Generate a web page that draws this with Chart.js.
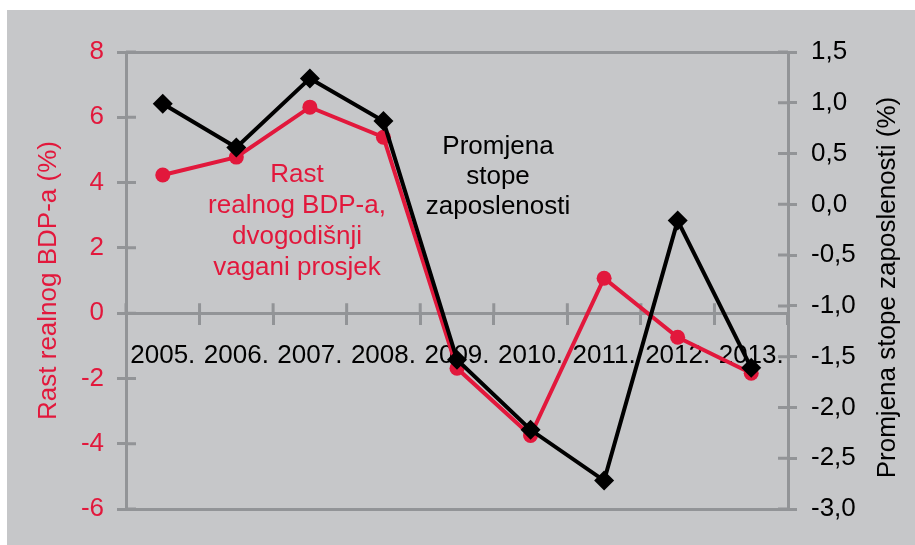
<!DOCTYPE html>
<html>
<head>
<meta charset="utf-8">
<script src="https://cdn.jsdelivr.net/npm/chart.js@4.4.1/dist/chart.umd.min.js"></script>
<style>
  body { margin: 0; background: #fff; }
  #wrap { position: absolute; left: 7px; top: 10px; width: 908px; height: 535px; background: #c6c7c9; }
</style>
</head>
<body>
<div id="wrap"><canvas id="zaposlenost"></canvas></div>
<script>
// podaci
const godine = ['2005.', '2006.', '2007.', '2008.', '2009.', '2010.', '2011.', '2012.', '2013.'];
const rastBDP = [4.23, 4.78, 6.31, 5.39, -1.69, -3.75, 1.07, -0.74, -1.84];
const promjenaZaposlenosti = [0.99, 0.56, 1.24, 0.82, -1.53, -2.22, -2.72, -0.16, -1.61];
const lijevaOs = [-6, 8, 2];     // min, max, korak
const desnaOs = [-3, 1.5, 0.5];

const crvena = '#e2183c';
const siva = '#929497';
const font = 'Liberation Sans, Arial, sans-serif';

// kratke crtice prema unutra + tekstovi
const dodaci = {
  id: 'dodaci',
  beforeDatasetsDraw(chart) {
    const c = chart.ctx, a = chart.chartArea;
    const sx = chart.scales.x, sy = chart.scales.y, sy1 = chart.scales.y1;
    c.save();
    c.strokeStyle = siva;
    c.lineWidth = 3;
    c.beginPath();
    sy.ticks.forEach(t => {
      const p = sy.getPixelForValue(t.value);
      c.moveTo(a.left, p); c.lineTo(a.left + 10, p);
    });
    sy1.ticks.forEach(t => {
      const p = sy1.getPixelForValue(t.value);
      c.moveTo(a.right - 10, p); c.lineTo(a.right, p);
    });
    const y0 = sy.getPixelForValue(0);
    const pola = (sx.getPixelForTick(1) - sx.getPixelForTick(0)) / 2;
    sx.ticks.forEach((t, i) => {
      const p = sx.getPixelForTick(i) - pola;
      c.moveTo(p, y0 - 10); c.lineTo(p, y0);
    });
    c.stroke();
    c.restore();
  },
  afterDraw(chart) {
    const c = chart.ctx, a = chart.chartArea;
    c.save();
    c.font = '26px ' + font;
    c.textAlign = 'center';
    c.textBaseline = 'middle';
    c.fillStyle = crvena;
    ['Rast', 'realnog BDP-a,', 'dvogodišnji', 'vagani prosjek'].forEach((s, i) => {
      c.fillText(s, 290, 165 + i * 31);
    });
    c.fillStyle = '#000';
    ['Promjena', 'stope', 'zaposlenosti'].forEach((s, i) => {
      c.fillText(s, 491, 137 + i * 30);
    });
    // naslov desne osi
    c.translate(881, (a.top + a.bottom) / 2 + 7);
    c.rotate(-Math.PI / 2);
    c.fillText('Promjena stope zaposlenosti (%)', 0, 0);
    c.restore();
  }
};

new Chart(document.getElementById('zaposlenost'), {
  type: 'line',
  data: {
    labels: godine,
    datasets: [{
      label: 'Promjena stope zaposlenosti',
      data: promjenaZaposlenosti,
      yAxisID: 'y1',
      borderColor: '#000',
      backgroundColor: '#000',
      borderWidth: 4,
      pointStyle: 'rectRot',
      pointRadius: 10,
      pointBorderWidth: 0,
      order: 0
    }, {
      label: 'Rast realnog BDP-a',
      data: rastBDP,
      yAxisID: 'y',
      borderColor: crvena,
      backgroundColor: crvena,
      borderWidth: 4,
      pointStyle: 'circle',
      pointRadius: 7.5,
      pointBorderWidth: 0,
      order: 1
    }]
  },
  options: {
    responsive: true,
    maintainAspectRatio: false,
    animation: false,
    layout: { padding: { top: 42, bottom: 36, left: 0, right: 0 } },
    plugins: { legend: { display: false }, tooltip: { enabled: false } },
    scales: {
      x: {
        position: { y: 0 },
        offset: true,
        grid: { offset: true, drawOnChartArea: false, color: siva, lineWidth: 3, tickLength: 10 },
        border: { color: siva, width: 3 },
        ticks: { color: '#000', font: { family: font, size: 26 }, autoSkip: false, maxRotation: 0, padding: 17 }
      },
      y: {
        position: 'left',
        min: lijevaOs[0], max: lijevaOs[1],
        afterFit: s => { s.width = 119; },
        ticks: { stepSize: lijevaOs[2], color: crvena, font: { family: font, size: 26 }, padding: 13 },
        grid: {
          color: ctx => (ctx.tick && (ctx.tick.value === lijevaOs[0] || ctx.tick.value === lijevaOs[1])) ? siva : 'rgba(0,0,0,0)',
          tickColor: siva, lineWidth: 3, tickLength: 9
        },
        border: { color: siva, width: 3 },
        title: { display: true, text: 'Rast realnog BDP-a (%)', color: crvena, font: { family: font, size: 26 }, padding: { top: 26, bottom: 0 } }
      },
      y1: {
        position: 'right',
        min: desnaOs[0], max: desnaOs[1],
        afterFit: s => { s.width = 127; },
        ticks: {
          stepSize: desnaOs[2], color: '#000', font: { family: font, size: 26 }, padding: 14,
          callback: v => v.toFixed(1).replace('.', ',')
        },
        grid: { drawOnChartArea: false, color: siva, lineWidth: 3, tickLength: 9 },
        border: { color: siva, width: 3 }
      }
    }
  },
  plugins: [dodaci]
});
</script>
</body>
</html>
